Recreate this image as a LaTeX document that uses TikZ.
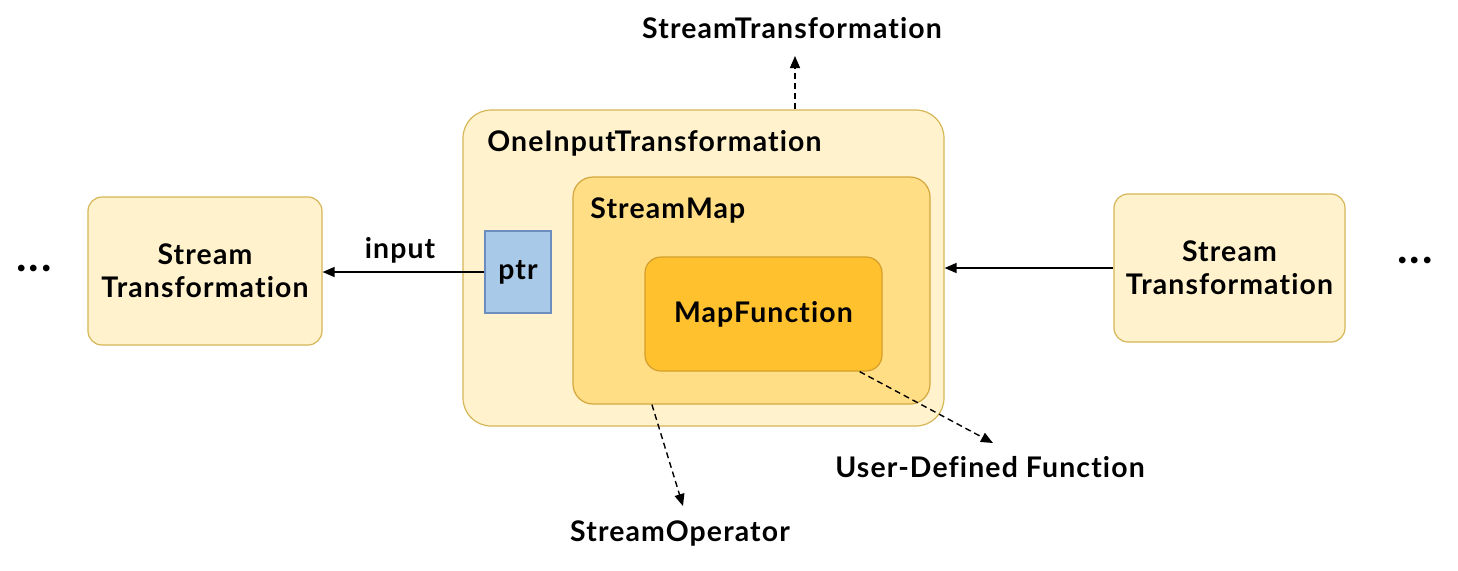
\documentclass[tikz,border=0pt]{standalone}
\usepackage{fontspec}
\setmainfont{Lato}[Ligatures=NoCommon,LetterSpace=4]
\usetikzlibrary{arrows.meta,calc}
\definecolor{lightbox}{HTML}{FFF2CC}
\definecolor{lightborder}{HTML}{D6B656}
\definecolor{midfill}{HTML}{FFDE85}
\definecolor{midborder}{HTML}{D4A73E}
\definecolor{darkfill}{HTML}{FFC22E}
\definecolor{darkborder}{HTML}{D59E2A}
\definecolor{ptrfill}{HTML}{A9C9E8}
\definecolor{ptrborder}{HTML}{6C8EBF}
\tikzset{
  txt/.style={font=\bfseries\fontsize{14.2}{16.5}\selectfont},
  box/.style={txt, draw=lightborder, fill=lightbox, line width=0.6pt, rounded corners=7pt, align=center},
  outerbox/.style={draw=lightborder, fill=lightbox, line width=0.6pt, rounded corners=14pt},
  midbox/.style={draw=midborder, fill=midfill, line width=0.6pt, rounded corners=10pt},
  innerbox/.style={txt, draw=darkborder, fill=darkfill, line width=0.6pt, rounded corners=8pt},
  ptrbox/.style={txt, draw=ptrborder, fill=ptrfill, line width=0.6pt},
  lbl/.style={txt, inner sep=0pt},
  dots/.style={font=\bfseries\fontsize{22}{24}\selectfont, inner sep=0pt},
  conn/.style={line width=0.7pt, -{Triangle[length=6pt,width=5pt]}},
  dconn/.style={conn, dash pattern=on 3pt off 2pt},
}
\begin{document}
\begin{tikzpicture}[x=0.5pt,y=-0.5pt]
\useasboundingbox (0,0) rectangle (1458,570);
% boxes
\node[box, minimum width=117pt, minimum height=74pt] (left) at (205,271) {Stream\\Transformation};
\node[outerbox, minimum width=240.5pt, minimum height=158pt] (outer) at (703.5,268) {};
\node[midbox, minimum width=178.5pt, minimum height=113.5pt] (smap) at (751.5,290.5) {};
\node[innerbox, minimum width=118.5pt, minimum height=57pt] (mf) at (763.5,314) {MapFunction};
\node[ptrbox, minimum width=33pt, minimum height=41pt, inner sep=0pt] (ptr) at (518,272) {ptr};
\node[box, minimum width=115.5pt, minimum height=74pt] (right) at (1229.5,268) {Stream\\Transformation};
% labels
\node[lbl, anchor=west] (oitlbl) at (487,143) {OneInputTransformation};
\node[lbl, anchor=west] (smlbl) at (590,210) {StreamMap};
\node[dots] (dotsl) at (34,268) {...};
\node[dots] (dotsr) at (1415,260) {...};
\node[lbl] (inlbl) at (400,250) {input};
\node[lbl] (stlbl) at (792,28) {StreamTransformation};
\node[lbl] (solbl) at (680,533) {StreamOperator};
\node[lbl] (udflbl) at (990,467) {User-Defined Function};
% connector end points
\coordinate (stend) at (795,56);
\coordinate (soend) at (683,506);
\coordinate (udfend) at (993,443);
% connectors
\draw[conn] (ptr.west) -- (ptr.west -| left.east);
\draw[conn] (right.west) -- (right.west -| outer.east);
\draw[dconn] (outer.north -| stend) -- (stend);
\draw[dconn] ($(smap.south west)!0.222!(smap.south east)$) -- (soend);
\draw[dconn] ([xshift=-11.5pt]mf.south east) -- (udfend);
\end{tikzpicture}
\end{document}
